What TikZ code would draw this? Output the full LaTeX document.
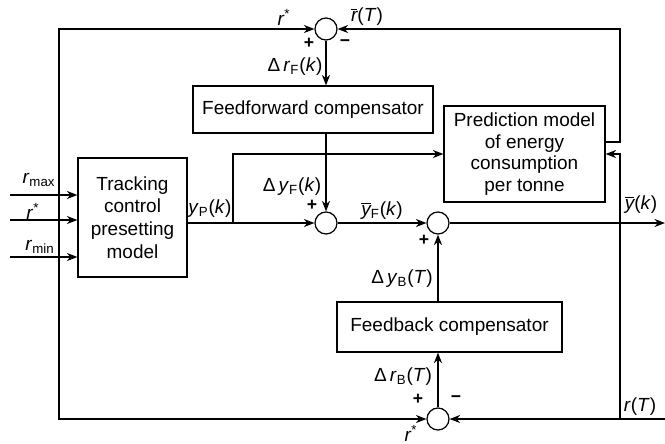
\documentclass[tikz,border=0pt]{standalone}
\usepackage{fontspec}
\setmainfont{Liberation Sans}
\usetikzlibrary{arrows.meta}

\tikzset{
  blockbox/.style={draw, align=center, inner sep=0pt},
  sumnode/.style={draw, circle, minimum size=4.4mm, inner sep=0pt},
  signlbl/.style={font=\fontsize{10}{12}\selectfont\bfseries, inner sep=0pt},
  sigtxt/.style={inner sep=0pt}
}

\begin{document}
\begin{tikzpicture}[x=0.2mm, y=-0.2mm, line width=0.7pt, line join=miter,
    >={Stealth[length=6pt,width=4.6pt]},
    font=\fontsize{10.8}{13}\selectfont]
  \useasboundingbox (0,0) rectangle (665,443);
  % blocks and summing points, placed at the positions of the source figure
  \node[blockbox, minimum width=21.8mm, minimum height=23.8mm] (track) at (132.5,217.5)
    {Tracking\\control\\presetting\\model};
  \node[blockbox, minimum width=48mm, minimum height=9.4mm] (ff) at (313,109.5)
    {Feedforward compensator};
  \node[blockbox, minimum width=32.2mm, minimum height=19.2mm,
    font=\fontsize{10.8}{12.2}\selectfont] (pred) at (524.5,154)
    {Prediction model\\of energy\\consumption\\per tonne};
  \node[blockbox, minimum width=45mm, minimum height=10mm] (fb) at (449.5,327)
    {Feedback compensator};
  \node[sumnode] (s1) at (326,29) {};
  \node[sumnode] (s2) at (326,223) {};
  \node[sumnode] (s3) at (438,223) {};
  \node[sumnode] (s4) at (438,419) {};
  % corners and free ends of the lines
  \coordinate (tl) at (59,29);
  \coordinate (bl) at (59,419);
  \coordinate (tr) at (620,29);
  \coordinate (rbr) at (620,419);
  \coordinate (rin) at (665,419);
  \coordinate (yout) at (665,223);
  \coordinate (ybr) at (233,223);
  \coordinate (in1) at (10,195);
  \coordinate (in2) at (10,220);
  \coordinate (in3) at (10,257);
  % inputs of the presetting model
  \draw[->] (in1) -- (in1 -| track.west);
  \draw[->] (in2) -- (in2 -| track.west);
  \draw[->] (in3) -- (in3 -| track.west);
  % reference loop round the left side
  \draw[<->] (s1) -- (tl) -- (bl) -- (s4);
  % feedforward path
  \draw[->] (s1) -- (s1 |- ff.north);
  \draw[->] (s1 |- ff.south) -- (s2);
  \draw[->] (track.east |- s2) -- (s2);
  \draw[->] (ybr) |- (pred.west);
  \draw[->] (s2) -- (s3);
  \draw[->] (s3) -- (yout);
  % feedback path
  \draw[->] (s4) -- (s4 |- fb.south);
  \draw[->] (s4 |- fb.north) -- (s3);
  \draw[->] (rin) -- (s4);
  \draw[->] (rbr) |- (pred.east);
  \draw[->] ([yshift=2.4mm]pred.east) -| (tr) -- (s1);
  % signal labels
  \node[sigtxt] (l-rtop) at (284,17) {\textit{r}\textsuperscript{*}};
  \node[sigtxt] (l-rbar) at (367,17) {$\overline{\textit{r}}$(\textit{T})};
  \node[signlbl] (p1) at (309,43) {+};
  \node[signlbl] (m1) at (345,43) {−};
  \node[sigtxt] (l-drf) at (295,67) {Δ\,\textit{r}\textsubscript{F}(\textit{k})};
  \node[sigtxt] (l-dyf) at (292,187) {Δ\,\textit{y}\textsubscript{F}(\textit{k})};
  \node[signlbl] (p2) at (312,205) {+};
  \node[sigtxt] (l-yp) at (210,209) {\textit{y}\textsubscript{P}(\textit{k})};
  \node[sigtxt] (l-rmax) at (39,180) {\textit{r}\textsubscript{max}};
  \node[sigtxt] (l-rin) at (33,211) {\textit{r}\textsuperscript{*}};
  \node[sigtxt] (l-rmin) at (40,247) {\textit{r}\textsubscript{min}};
  \node[sigtxt] (l-yfbar) at (382,211) {$\overline{\textit{y}}$\textsubscript{F}(\textit{k})};
  \node[signlbl] (p3) at (424,240) {+};
  \node[sigtxt] (l-dyb) at (402,279) {Δ\,\textit{y}\textsubscript{B}(\textit{T})};
  \node[sigtxt] (l-ybar) at (641,205) {$\overline{\textit{y}}$(\textit{k})};
  \node[sigtxt] (l-drb) at (403,377) {Δ\,\textit{r}\textsubscript{B}(\textit{T})};
  \node[signlbl] (p4) at (418,399) {+};
  \node[signlbl] (m4) at (456,399) {−};
  \node[sigtxt] (l-rbot) at (411,433) {\textit{r}\textsuperscript{*}};
  \node[sigtxt] (l-rt) at (640,407) {\textit{r}(\textit{T})};
\end{tikzpicture}
\end{document}
